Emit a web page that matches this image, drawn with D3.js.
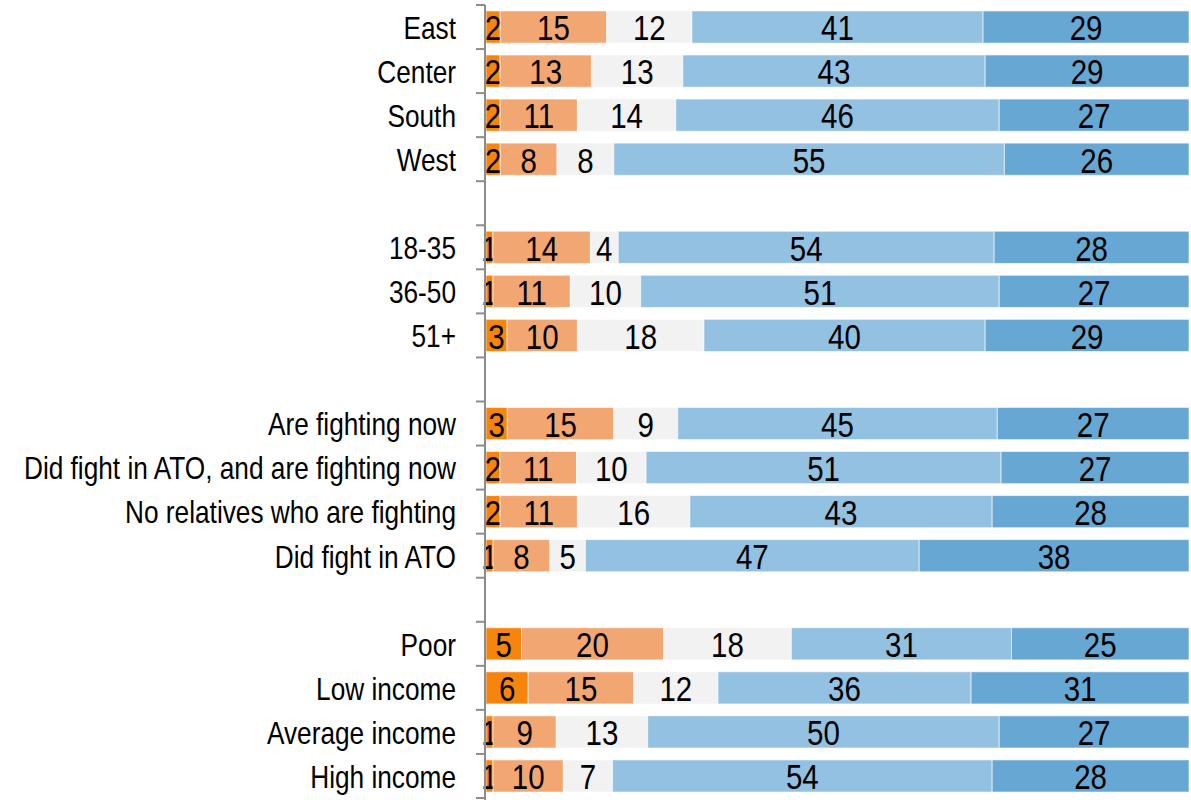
<!DOCTYPE html>
<html>
<head>
<meta charset="utf-8">
<script src="https://cdn.jsdelivr.net/npm/d3@7"></script>
<style>
  body { margin: 0; background: #fff; }
  svg { display: block; }
  text { font-family: "Liberation Sans Narrow", "Arial Narrow", "Liberation Sans", Arial, sans-serif; }
</style>
</head>
<body>
<svg id="chart" width="1191" height="800"></svg>
<script>
const categories = [
  "East", "Center", "South", "West", "",
  "18-35", "36-50", "51+", " ",
  "Are fighting now", "Did fight in ATO, and are fighting now", "No relatives who are fighting", "Did fight in ATO", "  ",
  "Poor", "Low income", "Average income", "High income"
];
const seriesKeys = ["s1", "s2", "s3", "s4", "s5"];
const s1 = [2, 2, 2, 2, null, 1, 1, 3, null, 3, 2, 2, 1, null, 5, 6, 1, 1];
const s2 = [15, 13, 11, 8, null, 14, 11, 10, null, 15, 11, 11, 8, null, 20, 15, 9, 10];
const s3 = [12, 13, 14, 8, null, 4, 10, 18, null, 9, 10, 16, 5, null, 18, 12, 13, 7];
const s4 = [41, 43, 46, 55, null, 54, 51, 40, null, 45, 51, 43, 47, null, 31, 36, 50, 54];
const s5 = [29, 29, 27, 26, null, 28, 27, 29, null, 27, 27, 28, 38, null, 25, 31, 27, 28];
const colors = ["#F5850C", "#F2A772", "#F2F2F2", "#93C1E1", "#66A8D3"];

const rows = categories.map((c, i) => ({
  cat: c, s1: s1[i], s2: s2[i], s3: s3[i], s4: s4[i], s5: s5[i]
}));
const dataRows = rows.filter(r => r.s1 !== null);

const svg = d3.select("#chart");
const x0 = 485, x1 = 1189;
const y = d3.scaleBand().domain(categories).range([5, 798]).paddingInner(0.27).paddingOuter(0.135);
const x = d3.scaleLinear().domain([0, 1]).range([x0 + 1, x1]);
const SX = 0.82;

const stack = d3.stack().keys(seriesKeys).offset(d3.stackOffsetExpand);
const stacked = stack(dataRows);

const g = svg.append("g");
stacked.forEach((layer, li) => {
  const lg = g.append("g");
  lg.selectAll("rect").data(layer).join("rect")
    .attr("x", d => x(d[0]))
    .attr("y", d => y(d.data.cat))
    .attr("width", d => x(d[1]) - x(d[0]))
    .attr("height", y.bandwidth())
    .attr("fill", colors[li])
    .attr("stroke", "#ffffff")
    .attr("stroke-opacity", 0.6)
    .attr("stroke-width", 1);
  lg.selectAll("text").data(layer).join("text")
    .attr("transform", d => `translate(${(x(d[0]) + x(d[1])) / 2},${y(d.data.cat) + y.bandwidth() / 2}) scale(${SX},1)`)
    .attr("dy", "0.37em")
    .attr("text-anchor", "middle")
    .attr("font-size", 36)
    .attr("fill", "#000")
    .text(d => d.data[seriesKeys[li]]);
});

// axis: band-boundary ticks
const step = y.step();
const bounds = d3.range(categories.length + 1).map(i => 5 + i * step);
const ax = svg.append("g");
ax.append("line").attr("x1", x0).attr("x2", x0).attr("y1", bounds[0]).attr("y2", 800)
  .attr("stroke", "#8c8c8c").attr("stroke-width", 2);
ax.selectAll("line.tick").data(bounds).join("line").attr("class", "tick")
  .attr("x1", x0 - 9).attr("x2", x0).attr("y1", d => d).attr("y2", d => d)
  .attr("stroke", "#8c8c8c").attr("stroke-width", 2);

svg.append("g").selectAll("text").data(categories.filter(c => c.trim() !== "")).join("text")
  .attr("transform", d => `translate(456,${y(d) + y.bandwidth() / 2}) scale(${SX},1)`)
  .attr("dy", "0.37em")
  .attr("text-anchor", "end")
  .attr("font-size", 32)
  .attr("fill", "#000")
  .text(d => d);
</script>
</body>
</html>
